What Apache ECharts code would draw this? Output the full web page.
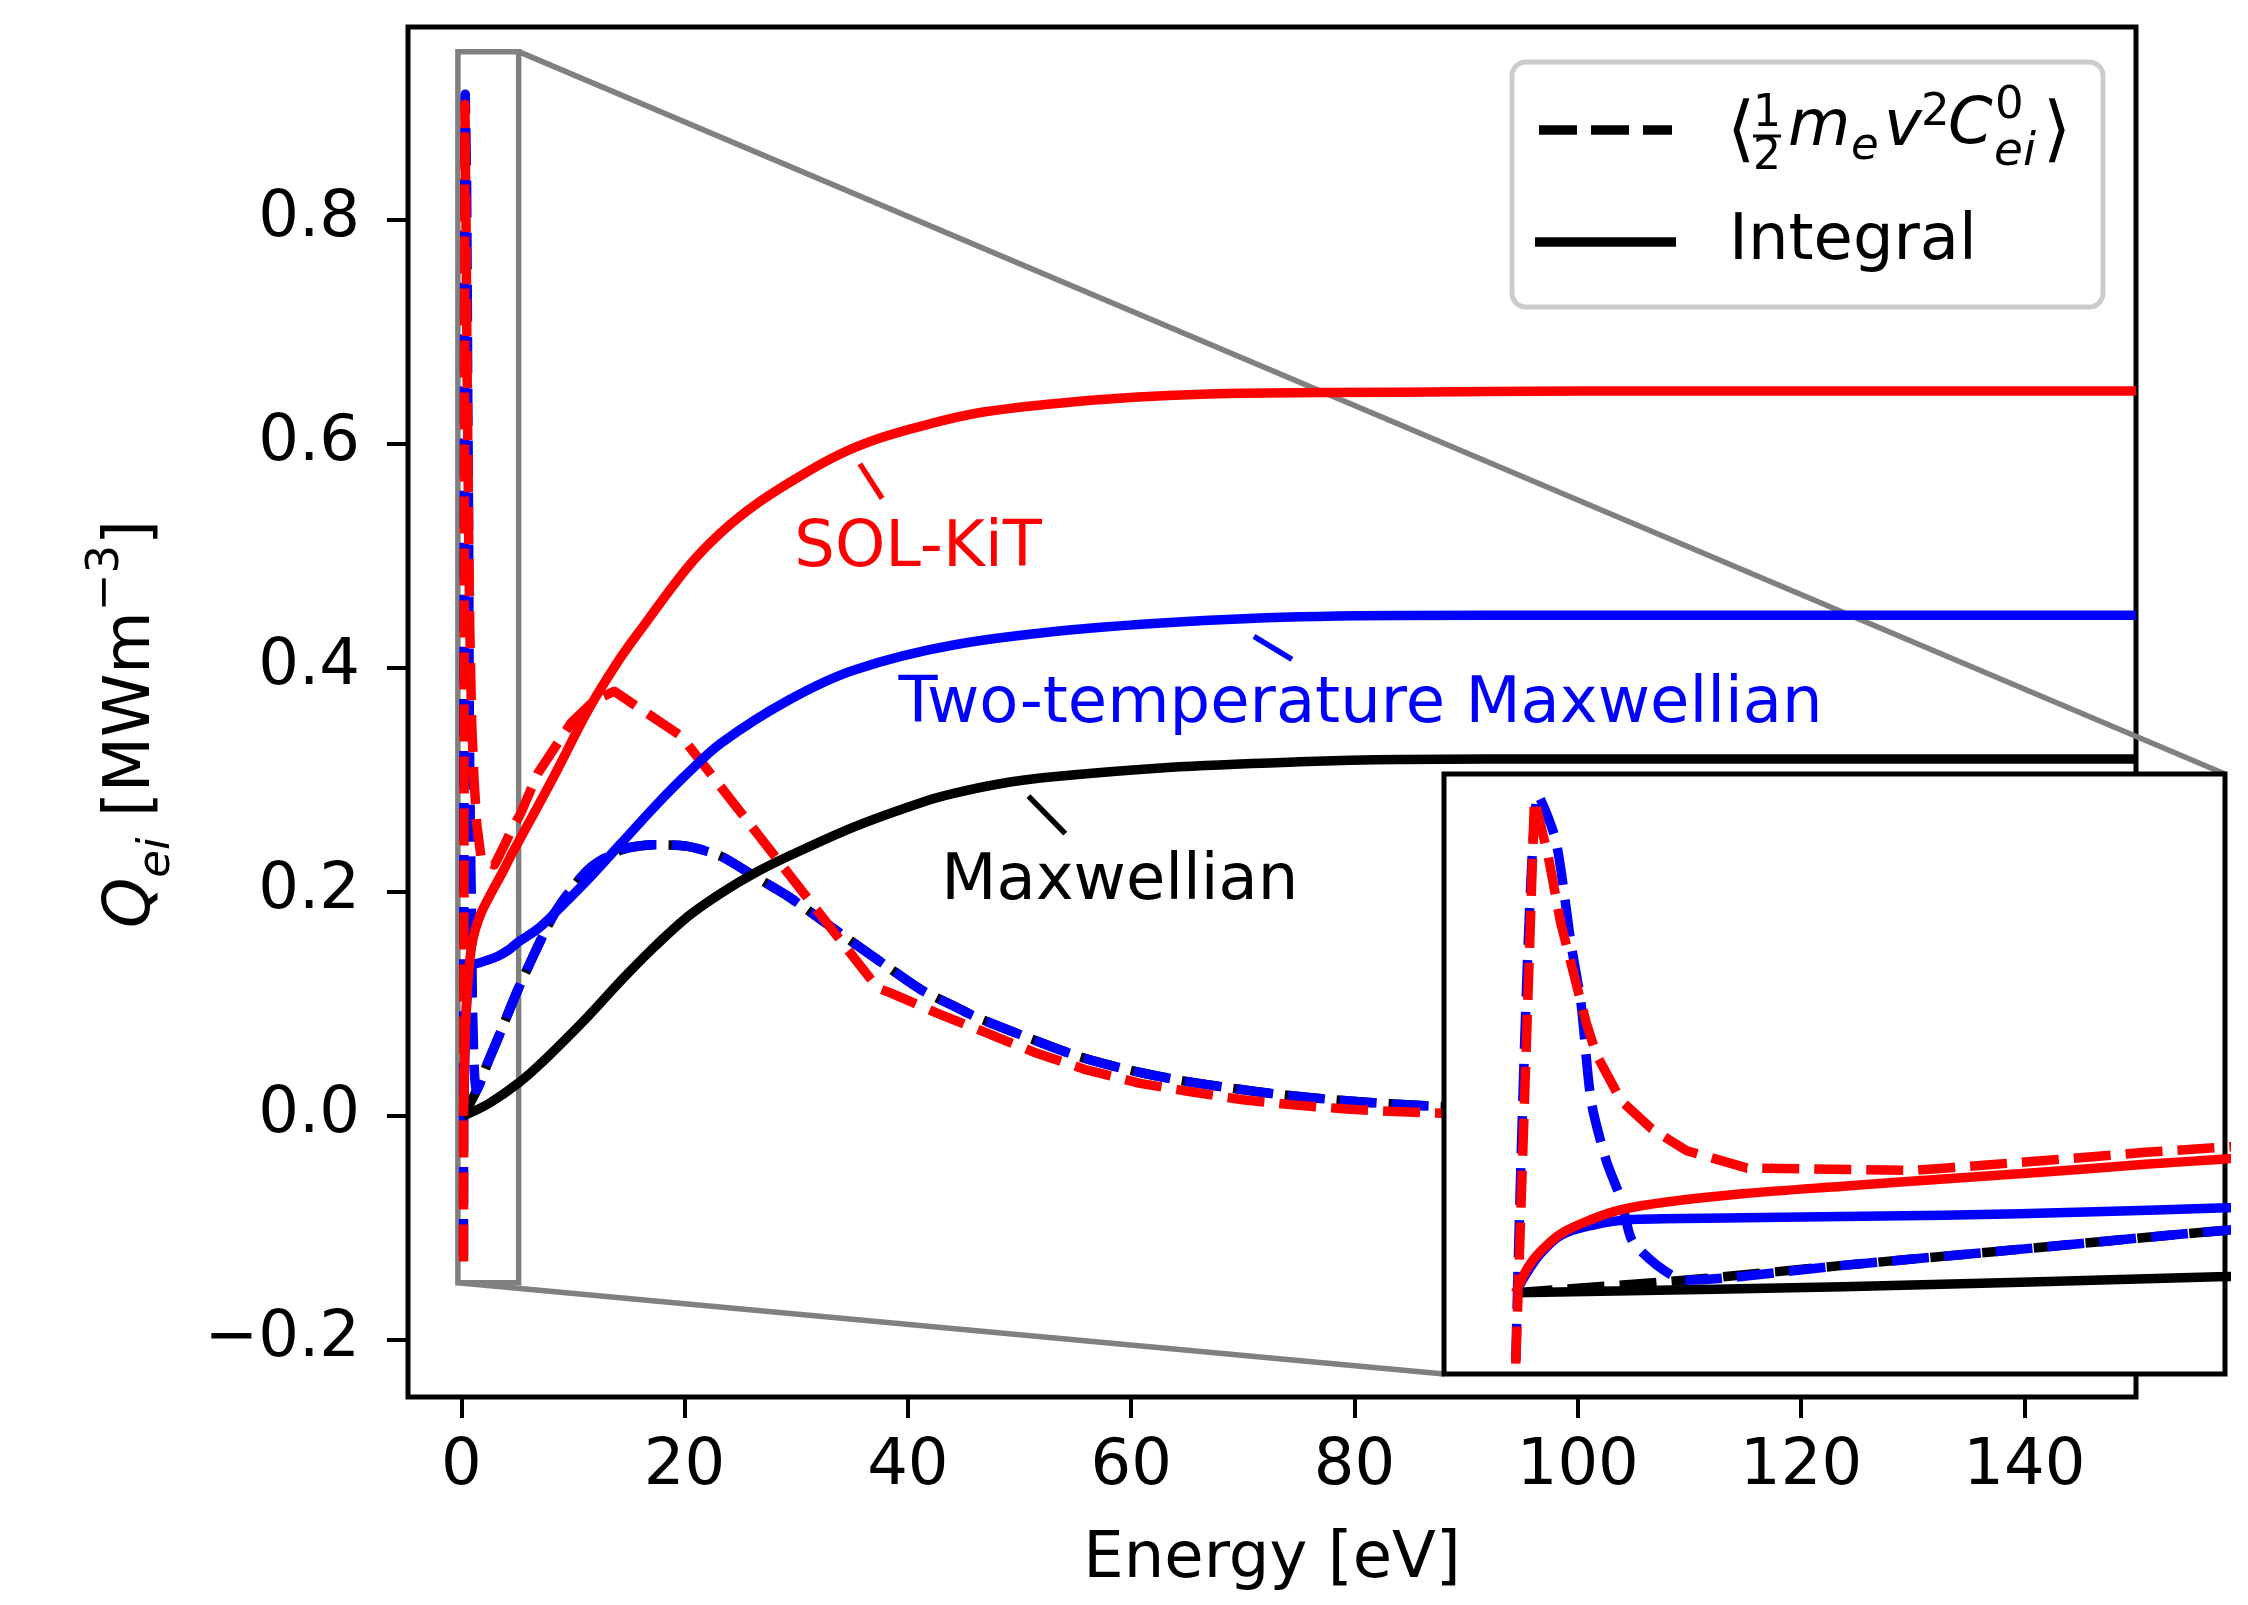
<!DOCTYPE html>
<html>
<head>
<meta charset="utf-8">
<script src="https://cdn.jsdelivr.net/npm/echarts@6/dist/echarts.min.js"></script>
<style>html,body{margin:0;padding:0;background:#fff;}</style>
</head>
<body>
<div id="main" style="width:2248px;height:1605px;"></div>
<script>
// energy [eV] / Q_ei [MW m^-3]

// Maxwellian, <1/2 m v^2 C> (black dashed)
var maxwAvgE = [0.2, 1.39, 2.48, 3.53, 5.09, 8.37, 11.35, 14.34, 17.32, 20.3, 23.3, 26.28, 29.26, 32.25, 35.2, 38.2, 41.2, 44.2, 46.0, 50.5, 55.3, 59.8, 64.2, 69.0, 73.5, 78.3, 83.1, 87.9, 100, 120, 150];
var maxwAvgQ = [0.0, 0.023, 0.05, 0.075, 0.113, 0.181, 0.2196, 0.2375, 0.242, 0.2405, 0.2315, 0.2137, 0.196, 0.175, 0.154, 0.133, 0.1125, 0.0976, 0.0887, 0.0708, 0.053, 0.041, 0.032, 0.0247, 0.0188, 0.0143, 0.0107, 0.0083, 0.004, 0.0015, 0.0005];

// two-temperature Maxwellian, <1/2 m v^2 C> (blue dashed)
var twoTAvgE = [0.2, 0.356, 0.479, 0.584, 0.654, 0.725, 0.83, 0.935, 1.023, 1.39, 2.48, 3.53, 5.09, 8.37, 11.35, 14.34, 17.32, 20.3, 23.3, 26.28, 29.26, 32.25, 35.2, 38.2, 41.2, 44.2, 46.0, 50.5, 55.3, 59.8, 64.2, 69.0, 73.5, 78.3, 83.1, 87.9, 100, 120, 150];
var twoTAvgQ = [-0.125, 0.912, 0.828, 0.64, 0.531, 0.351, 0.242, 0.17, 0.09, 0.023, 0.05, 0.075, 0.113, 0.181, 0.2196, 0.2375, 0.242, 0.2405, 0.2315, 0.2137, 0.196, 0.175, 0.154, 0.133, 0.1125, 0.0976, 0.0887, 0.0708, 0.053, 0.041, 0.032, 0.0247, 0.0188, 0.0143, 0.0107, 0.0083, 0.004, 0.0015, 0.0005];

// Maxwellian, integral (black solid)
var maxwIntE = [0.2, 2.48, 5.09, 7.47, 11.35, 14.34, 17.32, 20.3, 23.3, 26.28, 29.26, 35.2, 41.3, 44.2, 48.0, 52.3, 63.3, 75, 84, 100, 150];
var maxwIntQ = [0.0, 0.011, 0.029, 0.05, 0.0887, 0.121, 0.151, 0.178, 0.199, 0.2167, 0.2315, 0.258, 0.28, 0.288, 0.296, 0.302, 0.311, 0.316, 0.318, 0.3185, 0.3185];

// SOL-KiT, <1/2 m v^2 C> (red dashed)
var solkitAvgE = [0.2, 0.33, 0.426, 0.514, 0.584, 0.69, 0.76, 0.935, 1.146, 1.391, 1.812, 2.97, 3.181, 3.883, 4.585, 5.28, 6.87, 9.86, 11.95, 13.7, 19.7, 37.3, 38.5, 42.6, 47.1, 51.5, 56.0, 60.8, 65.2, 70.0, 74.5, 79.3, 83.7, 87.9, 100, 120, 150];
var solkitAvgQ = [-0.13, 0.903, 0.799, 0.676, 0.604, 0.495, 0.437, 0.351, 0.3, 0.26, 0.228, 0.224, 0.228, 0.242, 0.257, 0.269, 0.306, 0.351, 0.371, 0.379, 0.339, 0.114, 0.1095, 0.0917, 0.0738, 0.056, 0.041, 0.029, 0.0217, 0.0143, 0.0098, 0.006, 0.0038, 0.0024, 0.001, 0.0003, 0.0];

// two-temperature Maxwellian, integral (blue solid)
var twoTIntE = [0.2, 0.269, 0.374, 0.514, 0.725, 1.005, 1.777, 3.181, 4.234, 5.093, 6.87, 8.37, 11.35, 14.34, 17.32, 20.3, 23.3, 29.3, 35.2, 44.2, 56.0, 70.6, 84, 100, 150];
var twoTIntQ = [0.0, 0.033, 0.072, 0.105, 0.123, 0.134, 0.137, 0.142, 0.148, 0.155, 0.167, 0.181, 0.211, 0.2435, 0.276, 0.306, 0.333, 0.371, 0.398, 0.4205, 0.435, 0.444, 0.4466, 0.4468, 0.4468];

// SOL-KiT, integral (red solid)
var solkitIntE = [0.2, 0.286, 0.374, 0.514, 0.725, 0.935, 1.251, 1.777, 2.479, 3.181, 3.883, 4.585, 5.093, 8.4, 11.35, 14.0, 16.0, 20.3, 23.3, 26.7, 30.5, 34.0, 37.5, 41.3, 46.0, 52.3, 58.0, 63.3, 70, 84, 100, 150];
var solkitIntQ = [0.0, 0.047, 0.076, 0.108, 0.134, 0.152, 0.166, 0.181, 0.195, 0.208, 0.221, 0.235, 0.244, 0.305, 0.362, 0.405, 0.433, 0.49, 0.521, 0.548, 0.572, 0.591, 0.605, 0.616, 0.627, 0.635, 0.64, 0.643, 0.645, 0.646, 0.647, 0.647];

var xTicks = [0, 20, 40, 60, 80, 100, 120, 140];
var yTicks = [-0.2, 0.0, 0.2, 0.4, 0.6, 0.8];

// axis limits
var mainXRange = [-4.77, 150];
var mainYRange = [-0.251, 0.972];
var insetXRange = [-0.3, 5.14];
var insetYRange = [-0.149, 0.95];

// curve labels: [text, colour, left-edge energy, centre Q] and their pointer lines
var curveLabels = [
  ['SOL-KiT', '#ff0000', 29.83, 0.506],
  ['Two-temperature Maxwellian', '#0000ff', 39.16, 0.3665],
  ['Maxwellian', '#000000', 42.99, 0.208]
];
var pointerLines = [
  ['#ff0000', [[35.7, 0.582], [37.7, 0.551]]],
  ['#0000ff', [[71.0, 0.428], [74.4, 0.4075]]],
  ['#000000', [[50.8, 0.2854], [54.1, 0.2519]]]
];

var FONT = "'DejaVu Sans', sans-serif";
var DASH = [37, 15];

function pairs(e, q) {
  var out = [];
  for (var i = 0; i < e.length; i++) out.push([e[i], q[i]]);
  return out;
}

// drawing order follows the figure (later ones on top)
var curves = [
  { e: maxwAvgE, q: maxwAvgQ, color: '#000000', dashed: true, smooth: 0.25 },
  { e: twoTAvgE, q: twoTAvgQ, color: '#0000ff', dashed: true, smooth: 0.25 },
  { e: maxwIntE, q: maxwIntQ, color: '#000000', dashed: false, smooth: 0.35 },
  { e: solkitAvgE, q: solkitAvgQ, color: '#ff0000', dashed: true, smooth: false },
  { e: twoTIntE, q: twoTIntQ, color: '#0000ff', dashed: false, smooth: 0.35 },
  { e: solkitIntE, q: solkitIntQ, color: '#ff0000', dashed: false, smooth: 0.35 }
];

var series = [];
[0, 1].forEach(function (g) {
  curves.forEach(function (c) {
    series.push({
      type: 'line',
      xAxisIndex: g, yAxisIndex: g,
      data: pairs(c.e, c.q),
      showSymbol: false, symbol: 'none',
      smooth: c.smooth,
      z: g ? 6 : 2,
      lineStyle: { color: c.color, width: 9.5, type: c.dashed ? DASH : 'solid', join: 'round' },
      silent: true
    });
  });
});
pointerLines.forEach(function (p) {
  series.push({
    type: 'line', xAxisIndex: 0, yAxisIndex: 0, data: p[1],
    showSymbol: false, symbol: 'none', z: 3, silent: true,
    lineStyle: { color: p[0], width: 5.5 }
  });
});

function yFmt(v) {
  var s = Math.abs(v).toFixed(1);
  return (v < -1e-9 ? '\u2212' : '') + s;
}

var option = {
  animation: false,
  backgroundColor: '#ffffff',
  textStyle: { fontFamily: FONT },
  grid: [
    { left: 408, top: 27, width: 1728, height: 1370, show: true, borderColor: '#000', borderWidth: 5, backgroundColor: 'transparent', z: 0 },
    { left: 1444, top: 774, width: 781, height: 600, show: true, borderColor: '#000', borderWidth: 5, backgroundColor: '#ffffff', z: 5 }
  ],
  xAxis: [
    {
      gridIndex: 0, type: 'value', min: mainXRange[0], max: mainXRange[1],
      axisLine: { show: false, onZero: false },
      axisTick: { show: true, length: 21, customValues: xTicks, lineStyle: { color: '#000', width: 4 } },
      axisLabel: { customValues: xTicks, fontSize: 64, color: '#000', fontFamily: FONT, margin: 38,
                   formatter: function (v) { return String(Math.round(v)); } },
      splitLine: { show: false }
    },
    { gridIndex: 1, type: 'value', min: insetXRange[0], max: insetXRange[1], show: false, splitLine: { show: false } }
  ],
  yAxis: [
    {
      gridIndex: 0, type: 'value', min: mainYRange[0], max: mainYRange[1],
      axisLine: { show: false, onZero: false },
      axisTick: { show: true, length: 21, customValues: yTicks, lineStyle: { color: '#000', width: 4 } },
      axisLabel: { customValues: yTicks, fontSize: 64, color: '#000', fontFamily: FONT, margin: 48, formatter: yFmt },
      splitLine: { show: false }
    },
    { gridIndex: 1, type: 'value', min: insetYRange[0], max: insetYRange[1], show: false, splitLine: { show: false } }
  ],
  series: series
};

var chart = echarts.init(document.getElementById('main'));
chart.setOption(option);

function px(g, p) { return chart.convertToPixel({ gridIndex: g }, p); }

var G = [];
// zoom rectangle and connectors
var r0 = px(0, [insetXRange[0], insetYRange[0]]);
var r1 = px(0, [insetXRange[1], insetYRange[1]]);
var i0 = px(1, [insetXRange[0], insetYRange[0]]);
var i1 = px(1, [insetXRange[1], insetYRange[1]]);
var gray = { stroke: '#808080', lineWidth: 5.5, fill: null };
G.push({ type: 'rect', z: 1, silent: true, shape: { x: r0[0], y: r1[1], width: r1[0] - r0[0], height: r0[1] - r1[1] }, style: gray });
G.push({ type: 'line', z: 1, silent: true, shape: { x1: r1[0], y1: r1[1], x2: i1[0], y2: i1[1] }, style: gray });
G.push({ type: 'line', z: 1, silent: true, shape: { x1: r0[0], y1: r0[1], x2: i0[0], y2: i0[1] }, style: gray });

// curve labels
curveLabels.forEach(function (l) {
  var p = px(0, [l[2], l[3]]);
  G.push({ type: 'text', z: 10, silent: true, x: p[0], y: p[1],
    style: { text: l[0], fill: l[1], font: '64px ' + FONT, align: 'left', verticalAlign: 'middle' } });
});

// axis titles
G.push({ type: 'text', z: 10, silent: true, x: 1272, y: 1560,
  style: { text: 'Energy [eV]', fill: '#000', font: '64px ' + FONT, align: 'center', verticalAlign: 'middle' } });
G.push({ type: 'text', z: 10, silent: true, x: 132, y: 724, rotation: Math.PI / 2,
  style: {
    text: '{q|Q}{s|ei} [MWm{p|\u22123}]',
    fill: '#000', font: '64px ' + FONT, lineHeight: 96, align: 'center', verticalAlign: 'middle',
    rich: {
      q: { fontSize: 64, fontStyle: 'italic', fontFamily: FONT, fill: '#000' },
      s: { fontSize: 45, fontStyle: 'italic', fontFamily: FONT, verticalAlign: 'bottom', lineHeight: 45, fill: '#000' },
      p: { fontSize: 45, fontFamily: FONT, verticalAlign: 'top', lineHeight: 45, fill: '#000' }
    }
  } });

// legend
G.push({ type: 'rect', z: 20, silent: true, shape: { x: 1512, y: 62, width: 591, height: 245, r: 14 },
  style: { fill: 'rgba(255,255,255,0.8)', stroke: '#cccccc', lineWidth: 5 } });
G.push({ type: 'line', z: 21, silent: true, shape: { x1: 1539, y1: 130, x2: 1672, y2: 130 },
  style: { stroke: '#000', lineWidth: 9.5, lineDash: [38, 14] } });
G.push({ type: 'line', z: 21, silent: true, shape: { x1: 1535, y1: 242, x2: 1676, y2: 242 },
  style: { stroke: '#000', lineWidth: 9.5 } });
function lt(s, x, y, size, italic) {
  G.push({ type: 'text', z: 21, silent: true, x: x, y: y,
    style: { text: s, fill: '#000', font: (italic ? 'italic ' : '') + size + 'px ' + FONT, align: 'left', verticalAlign: 'middle' } });
}
lt('\u27e8', 1727, 134, 72, false);
G.push({ type: 'text', z: 21, silent: true, x: 1767, y: 115,
  style: { text: '1', fill: '#000', font: '44px ' + FONT, align: 'center', verticalAlign: 'middle' } });
G.push({ type: 'line', z: 21, silent: true, shape: { x1: 1753, y1: 136, x2: 1781, y2: 136 }, style: { stroke: '#000', lineWidth: 3 } });
G.push({ type: 'text', z: 21, silent: true, x: 1767, y: 158,
  style: { text: '2', fill: '#000', font: '44px ' + FONT, align: 'center', verticalAlign: 'middle' } });
lt('m', 1788, 128, 64, true);
lt('e', 1851, 147, 45, true);
lt('v', 1884, 128, 64, true);
lt('2', 1921, 113, 45, false);
lt('C', 1948, 126, 64, true);
lt('0', 1995, 106, 45, false);
lt('ei', 1994, 153, 47, true);
lt('\u27e9', 2043, 134, 72, false);
lt('Integral', 1729, 242, 64, false);

chart.setOption({ graphic: { elements: G } });
</script>
</body>
</html>
